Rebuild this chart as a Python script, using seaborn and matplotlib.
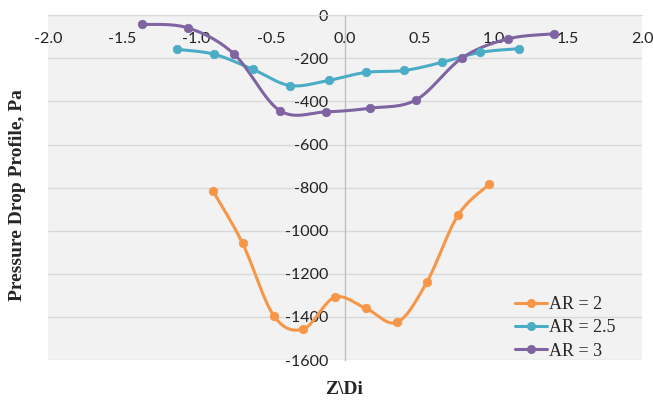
import numpy as np
import seaborn as sns
import matplotlib
matplotlib.use('Agg')
import matplotlib.pyplot as plt
from matplotlib.lines import Line2D
from matplotlib.ticker import FormatStrFormatter, MultipleLocator

# data
z_ar2 = [-0.89, -0.69, -0.48, -0.28, -0.07, 0.14, 0.35, 0.55, 0.76, 0.97]
p_ar2 = [-815, -1058, -1394, -1456, -1309, -1360, -1425, -1240, -929, -785]

z_ar25 = [-1.13, -0.88, -0.62, -0.37, -0.11, 0.14, 0.40, 0.65, 0.91, 1.17]
p_ar25 = [-158, -181, -251, -326, -302, -265, -256, -219, -172, -155]

z_ar3 = [-1.37, -1.06, -0.75, -0.44, -0.13, 0.17, 0.48, 0.79, 1.10, 1.41]
p_ar3 = [-42, -58, -178, -442, -448, -431, -392, -197, -109, -86]

labels = ['AR = 2', 'AR = 2.5', 'AR = 3']
colors = ['#f79646', '#4bacc6', '#8064a2']


def smooth(x, y, n=30):
    # catmull-rom through the points, like Excel's smoothed line
    pts = np.column_stack([x, y]).astype(float)
    pts = np.vstack([pts[0], pts, pts[-1]])
    out = []
    t = np.linspace(0, 1, n)[:, None]
    for i in range(1, len(pts) - 2):
        p0, p1, p2, p3 = pts[i - 1], pts[i], pts[i + 1], pts[i + 2]
        seg = 0.5 * ((2 * p1) + (-p0 + p2) * t + (2 * p0 - 5 * p1 + 4 * p2 - p3) * t ** 2
                     + (-p0 + 3 * p1 - 3 * p2 + p3) * t ** 3)
        out.append(seg if i == 1 else seg[1:])
    out = np.vstack(out)
    return out[:, 0], out[:, 1]


sns.set_style('white')
plt.rcParams['axes.unicode_minus'] = False
fig = plt.figure(figsize=(6.53, 4.0), dpi=100)
ax = fig.add_axes([48 / 653, 1 - 360 / 400, (642 - 48) / 653, (360 - 15.3) / 400])
ax.set_facecolor('#f2f2f2')

series = [(z_ar2, p_ar2), (z_ar25, p_ar25), (z_ar3, p_ar3)]
for (zx, py), c in zip(series, colors):
    sx, sy = smooth(zx, py)
    sns.lineplot(x=sx, y=sy, sort=False, estimator=None, color=c, lw=2.2, ax=ax, zorder=3)
    sns.scatterplot(x=zx, y=py, color=c, edgecolor=c, s=38, ax=ax, zorder=4)

ax.set_xlim(-2.0, 2.0)
ax.set_ylim(-1600, 0)
ax.xaxis.set_major_locator(MultipleLocator(0.5))
ax.yaxis.set_major_locator(MultipleLocator(200))
ax.xaxis.set_major_formatter(FormatStrFormatter('%.1f'))
ax.grid(axis='y', color='#d9d9d9', lw=1)
ax.grid(axis='x', visible=False)
ax.set_axisbelow(True)

for s in ['top', 'right']:
    ax.spines[s].set_visible(False)
ax.spines['left'].set_position(('data', 0))
ax.spines['bottom'].set_position(('data', 0))
ax.spines['left'].set_color('#bfbfbf')
ax.spines['bottom'].set_color('#d9d9d9')
ax.spines['left'].set_linewidth(1)
ax.tick_params(axis='both', length=0, labelsize=11.5, colors='#222222', pad=12)

for lab in ax.get_xticklabels() + ax.get_yticklabels():
    lab.set_family('Lato')

ax.set_xlabel('')
ax.set_ylabel('')
fig.text(18 / 653, 1 - 195 / 400, 'Pressure Drop Profile, Pa', rotation=90, ha='center', va='center',
         family='Liberation Serif', weight='bold', fontsize=14)
fig.text(344 / 653, 1 - 389 / 400, 'Z\\Di', ha='center', va='center',
         family='Liberation Serif', weight='bold', fontsize=14)

handles = [Line2D([0], [0], color=c, lw=2.2, marker='o', ms=5.5) for c in colors]
ax.legend(handles, labels, loc='upper left', bbox_to_anchor=(506 / 653, 1 - 287 / 400),
          bbox_transform=fig.transFigure, frameon=False, borderpad=0, handlelength=1.75,
          handletextpad=0.15, labelspacing=0.35,
          prop={'family': 'Liberation Serif', 'size': 13})

fig.savefig('out.png', dpi=100)
